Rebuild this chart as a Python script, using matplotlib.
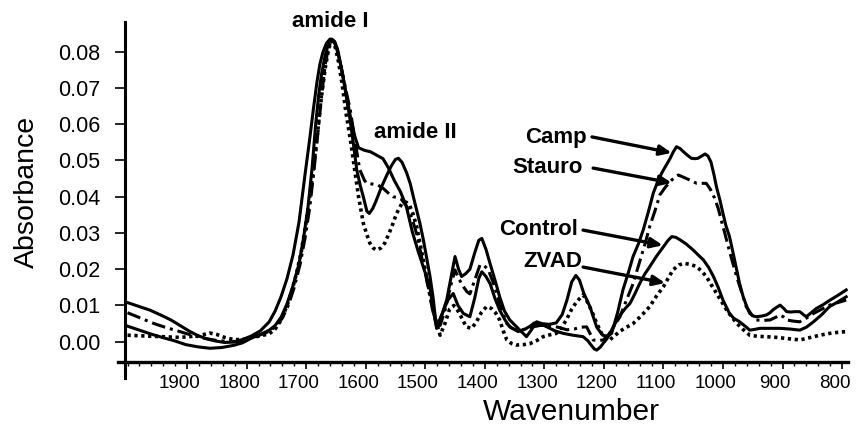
import matplotlib
matplotlib.use("Agg")
import matplotlib.pyplot as plt
import matplotlib.transforms as mtransforms
import numpy as np

plt.rcParams['font.family'] = ['Liberation Sans', 'DejaVu Sans']

# ---- data (wavenumber, absorbance) ----
camp_x = [1988, 1970, 1950, 1930, 1915, 1900, 1885, 1870, 1855, 1840, 1825, 1810, 1795, 1780,
          1765, 1750, 1740, 1730, 1720, 1710, 1700, 1690, 1682, 1676, 1670, 1665, 1660, 1654,
          1648, 1642, 1637, 1631, 1625, 1620, 1613, 1606, 1600, 1590, 1580, 1570, 1559, 1550,
          1540, 1530, 1520, 1510, 1500, 1490, 1480, 1475, 1469, 1460, 1452, 1445, 1438, 1432,
          1427, 1420, 1413, 1405, 1398, 1393, 1386, 1379, 1370, 1363, 1355, 1346, 1332, 1318,
          1310, 1301, 1292, 1280, 1268, 1258, 1250, 1242, 1235, 1229, 1222, 1211, 1200, 1190,
          1182, 1175, 1165, 1156, 1147, 1139, 1130, 1122, 1113, 1105, 1098, 1091, 1084, 1077,
          1071, 1066, 1060, 1055, 1048, 1041, 1035, 1030, 1024, 1018, 1013, 1008, 1003, 999,
          993, 988, 983, 977, 971, 965, 960, 954, 948, 943, 937, 932, 922, 915, 909, 904, 897,
          892, 886, 881, 874, 867, 859, 853, 848, 840, 831, 820, 808, 795, 781]
camp_y = [0.0108, 0.0098, 0.0087, 0.0072, 0.0060, 0.0045, 0.0030, 0.0017, 0.0008, 0.0002,
          -0.0002, -0.0001, 0.0006, 0.0016, 0.0030, 0.0055, 0.0085, 0.0125, 0.0175, 0.0240,
          0.0330, 0.0460, 0.0560, 0.0640, 0.0715, 0.0765, 0.0798, 0.0823, 0.0835, 0.0830,
          0.0812, 0.0770, 0.0722, 0.0676, 0.0615, 0.0565, 0.0535, 0.0528, 0.0524, 0.0515,
          0.0505, 0.0480, 0.0445, 0.0415, 0.0375, 0.0305, 0.0250, 0.0200, 0.0150, 0.0090,
          0.0040, 0.0075, 0.0115, 0.0175, 0.0235, 0.0200, 0.0180, 0.0188, 0.0200, 0.0245,
          0.0280, 0.0285, 0.0255, 0.0215, 0.0165, 0.0124, 0.0085, 0.0060, 0.0037, 0.0014,
          0.0032, 0.0055, 0.0050, 0.0048, 0.0052, 0.0075, 0.0115, 0.0165, 0.0183, 0.0170,
          0.0135, 0.0095, 0.0040, 0.0018, 0.0015, 0.0023, 0.0080, 0.0143, 0.0190, 0.0235,
          0.0270, 0.0308, 0.0360, 0.0410, 0.0440, 0.0465, 0.0485, 0.0505, 0.0525, 0.0538,
          0.0533, 0.0525, 0.0515, 0.0506, 0.0505, 0.0506, 0.0512, 0.0518, 0.0512, 0.0495,
          0.0460, 0.0428, 0.0390, 0.0354, 0.0320, 0.0290, 0.0245, 0.0198, 0.0160, 0.0124,
          0.0097, 0.0078, 0.0071, 0.0069, 0.0071, 0.0074, 0.0080, 0.0088, 0.0096, 0.0101,
          0.0092, 0.0083, 0.0082, 0.0083, 0.0083, 0.0075, 0.0069, 0.0080, 0.0092, 0.0102,
          0.0115, 0.0128, 0.0143]

control_x = [1988, 1970, 1950, 1930, 1910, 1890, 1870, 1850, 1830, 1810, 1795, 1780, 1765, 1750,
             1740, 1730, 1720, 1710, 1700, 1692, 1685, 1678, 1672, 1667, 1662, 1656, 1650, 1645,
             1640, 1635, 1630, 1625, 1620, 1614, 1609, 1603, 1597, 1592, 1586, 1582, 1576, 1570,
             1562, 1553, 1545, 1538, 1533, 1527, 1519, 1513, 1508, 1502, 1497, 1491, 1486, 1480,
             1475, 1469, 1460, 1450, 1441, 1433, 1424, 1413, 1405, 1398, 1393, 1386, 1379, 1371,
             1363, 1354, 1346, 1332, 1320, 1310, 1305, 1297, 1290, 1280, 1270, 1256, 1240, 1223,
             1215, 1210, 1204, 1200, 1194, 1189, 1183, 1178, 1170, 1160, 1152, 1144, 1136, 1128,
             1120, 1111, 1100, 1088, 1080, 1074, 1067, 1060, 1050, 1038, 1030, 1021, 1012, 1004,
             996, 988, 982, 977, 970, 960, 950, 943, 935, 926, 910, 892, 875, 859, 848, 836, 822,
             809, 795, 781]
control_y = [0.0043, 0.0033, 0.0022, 0.0012, 0.0003, -0.0008, -0.0014, -0.0018, -0.0016, -0.0010,
             -0.0003, 0.0010, 0.0020, 0.0032, 0.0045, 0.0068, 0.0105, 0.0155, 0.0215, 0.0290,
             0.0370, 0.0480, 0.0600, 0.0680, 0.0740, 0.0790, 0.0825, 0.0835, 0.0828, 0.0805,
             0.0765, 0.0720, 0.0670, 0.0610, 0.0550, 0.0474, 0.0430, 0.0400, 0.0360, 0.0354,
             0.0368, 0.0391, 0.0425, 0.0458, 0.0485, 0.0503, 0.0506, 0.0495, 0.0465, 0.0435,
             0.0400, 0.0360, 0.0327, 0.0280, 0.0235, 0.0180, 0.0124, 0.0037, 0.0075, 0.0115,
             0.0133, 0.0100, 0.0078, 0.0069, 0.0120, 0.0175, 0.0193, 0.0180, 0.0160, 0.0120,
             0.0087, 0.0060, 0.0041, 0.0028, 0.0035, 0.0045, 0.0052, 0.0050, 0.0046, 0.0038,
             0.0030, 0.0023, 0.0018, 0.0014, 0.0003, -0.0008, -0.0020, -0.0023, -0.0015, -0.0004,
             0.0008, 0.0023, 0.0048, 0.0075, 0.0092, 0.0106, 0.0132, 0.0160, 0.0185, 0.0207,
             0.0235, 0.0262, 0.0280, 0.0290, 0.0288, 0.0281, 0.0270, 0.0253, 0.0240, 0.0226,
             0.0205, 0.0180, 0.0150, 0.0115, 0.0095, 0.0078, 0.0065, 0.0055, 0.0042, 0.0032,
             0.0034, 0.0037, 0.0037, 0.0037, 0.0035, 0.0032, 0.0040, 0.0055, 0.0075, 0.0097,
             0.0110, 0.0124]

stauro_x = [1988, 1970, 1945, 1925, 1900, 1880, 1860, 1840, 1820, 1800, 1785, 1770, 1755, 1740,
            1728, 1718, 1708, 1698, 1690, 1682, 1675, 1668, 1662, 1656, 1650, 1645, 1640, 1635,
            1630, 1622, 1614, 1606, 1598, 1590, 1586, 1577, 1567, 1558, 1550, 1542, 1535, 1528,
            1520, 1514, 1508, 1501, 1495, 1488, 1482, 1476, 1469, 1463, 1455, 1446, 1438, 1431,
            1424, 1418, 1413, 1405, 1396, 1389, 1382, 1375, 1368, 1360, 1351, 1343, 1335, 1325,
            1310, 1295, 1280, 1265, 1250, 1238, 1228, 1217, 1211, 1206, 1198, 1189, 1180, 1172,
            1161, 1150, 1139, 1132, 1125, 1118, 1111, 1102, 1094, 1084, 1074, 1068, 1063, 1056,
            1049, 1040, 1032, 1024, 1016, 1009, 1002, 996, 991, 985, 979, 972, 965, 957, 949, 940,
            932, 920, 909, 900, 892, 886, 881, 870, 859, 848, 836, 822, 809, 795, 781]
stauro_y = [0.0080, 0.0068, 0.0051, 0.0040, 0.0028, 0.0018, 0.0010, 0.0004, 0.0001, 0.0001,
            0.0008, 0.0016, 0.0025, 0.0040, 0.0065, 0.0100, 0.0150, 0.0215, 0.0285, 0.0370,
            0.0470, 0.0580, 0.0680, 0.0765, 0.0815, 0.0833, 0.0825, 0.0800, 0.0765, 0.0700,
            0.0640, 0.0555, 0.0475, 0.0445, 0.0437, 0.0435, 0.0432, 0.0422, 0.0410, 0.0400,
            0.0398, 0.0393, 0.0375, 0.0355, 0.0328, 0.0290, 0.0240, 0.0190, 0.0140, 0.0090,
            0.0045, 0.0045, 0.0085, 0.0150, 0.0198, 0.0172, 0.0152, 0.0138, 0.0132, 0.0170,
            0.0212, 0.0210, 0.0198, 0.0168, 0.0133, 0.0090, 0.0050, 0.0038, 0.0032, 0.0033,
            0.0040, 0.0045, 0.0045, 0.0040, 0.0033, 0.0035, 0.0040, 0.0041, 0.0022, 0.0005,
            0.0003, 0.0005, 0.0020, 0.0040, 0.0069, 0.0115, 0.0160, 0.0198, 0.0235, 0.0275,
            0.0318, 0.0362, 0.0405, 0.0428, 0.0446, 0.0455, 0.0460, 0.0455, 0.0450, 0.0443,
            0.0437, 0.0437, 0.0437, 0.0420, 0.0396, 0.0368, 0.0336, 0.0300, 0.0262, 0.0220,
            0.0180, 0.0138, 0.0097, 0.0075, 0.0060, 0.0059, 0.0060, 0.0067, 0.0074, 0.0068,
            0.0060, 0.0057, 0.0055, 0.0065, 0.0078, 0.0090, 0.0101, 0.0108, 0.0115]

zvad_x = [1988, 1960, 1930, 1900, 1870, 1850, 1838, 1825, 1810, 1795, 1780, 1765, 1750, 1740,
          1730, 1720, 1712, 1704, 1696, 1689, 1682, 1675, 1668, 1662, 1656, 1650, 1645, 1640,
          1634, 1628, 1621, 1614, 1607, 1600, 1592, 1586, 1581, 1575, 1570, 1563, 1556, 1549,
          1542, 1537, 1533, 1527, 1520, 1514, 1508, 1502, 1496, 1490, 1484, 1478, 1472, 1463,
          1455, 1447, 1440, 1433, 1425, 1419, 1410, 1402, 1394, 1385, 1377, 1370, 1363, 1357,
          1351, 1343, 1335, 1323, 1312, 1300, 1290, 1279, 1268, 1259, 1251, 1242, 1234, 1223,
          1218, 1212, 1206, 1200, 1194, 1189, 1178, 1172, 1160, 1150, 1139, 1125, 1111, 1100,
          1088, 1080, 1072, 1062, 1052, 1042, 1032, 1024, 1016, 1008, 999, 990, 982, 973, 965,
          955, 943, 930, 915, 898, 881, 870, 859, 848, 836, 822, 809, 795, 781]
zvad_y = [0.0018, 0.0016, 0.0014, 0.0012, 0.0016, 0.0024, 0.0020, 0.0012, 0.0006, 0.0006,
          0.0012, 0.0016, 0.0022, 0.0035, 0.0060, 0.0100, 0.0140, 0.0190, 0.0250, 0.0320,
          0.0400, 0.0490, 0.0590, 0.0680, 0.0755, 0.0810, 0.0830, 0.0818, 0.0775, 0.0715,
          0.0630, 0.0560, 0.0480, 0.0400, 0.0327, 0.0295, 0.0272, 0.0258, 0.0253, 0.0258,
          0.0272, 0.0298, 0.0327, 0.0350, 0.0364, 0.0382, 0.0385, 0.0375, 0.0350, 0.0315,
          0.0265, 0.0215, 0.0165, 0.0115, 0.0070, 0.0018, 0.0050, 0.0090, 0.0100, 0.0085,
          0.0060, 0.0041, 0.0037, 0.0055, 0.0080, 0.0097, 0.0092, 0.0080, 0.0060, 0.0030,
          0.0005, -0.0005, -0.0009, -0.0008, -0.0005, 0.0004, 0.0014, 0.0019, 0.0023, 0.0040,
          0.0060, 0.0090, 0.0110, 0.0129, 0.0118, 0.0097, 0.0075, 0.0051, 0.0030, 0.0014,
          0.0005, 0.0014, 0.0030, 0.0040, 0.0050, 0.0072, 0.0097, 0.0125, 0.0152, 0.0175,
          0.0198, 0.0212, 0.0216, 0.0213, 0.0207, 0.0195, 0.0180, 0.0158, 0.0134, 0.0110,
          0.0088, 0.0068, 0.0051, 0.0035, 0.0018, 0.0015, 0.0014, 0.0012, 0.0009, 0.0007,
          0.0005, 0.0009, 0.0014, 0.0019, 0.0023, 0.0026, 0.0028]

tick_values = [1900, 1800, 1700, 1600, 1500, 1400, 1300, 1200, 1100, 1000, 900, 800]
tick_labels = [str(v) for v in tick_values]
yticks = [0.00, 0.01, 0.02, 0.03, 0.04, 0.05, 0.06, 0.07, 0.08]

# ---- figure ----
fig = plt.figure(figsize=(8.57, 4.37), dpi=100)
ax = fig.add_axes([118 / 857, 1 - 378 / 437, 730 / 857, 356 / 437])

lw = 2.2
ax.plot(camp_x, camp_y, color='black', lw=lw, solid_joinstyle='round')
ax.plot(control_x, control_y, color='black', lw=lw, solid_joinstyle='round')
ax.plot(stauro_x, stauro_y, color='black', lw=lw, dashes=(4.5, 1.6, 1.0, 1.6))
ax.plot(zvad_x, zvad_y, color='black', lw=2.6, dashes=(0.9, 1.0))

ax.set_xlim(2004, 778)
ax.set_ylim(-0.01, 0.0882)

# spines, Excel style
for s in ['top', 'right']:
    ax.spines[s].set_visible(False)
ax.spines['left'].set_position(('data', 1992))
ax.spines['bottom'].set_position(('data', -0.0056))
ax.spines['left'].set_linewidth(2.2)
ax.spines['bottom'].set_linewidth(2.4)

# y axis
ax.set_yticks(yticks)
ax.set_yticklabels(['%.2f' % v for v in yticks])
ax.tick_params(axis='y', direction='out', length=7, width=1.2, pad=11, labelsize=15.5)

# x axis: tick marks sit a little right of the labels in the original
ax.set_xticks([v - 12 for v in tick_values])
ax.set_xticklabels(tick_labels)
ax.set_xticks(np.arange(788, 1990, 20), minor=True)
ax.tick_params(axis='x', which='major', direction='out', length=5, width=1.2, pad=4, labelsize=13.5)
ax.tick_params(axis='x', which='minor', direction='out', length=3, width=1.0)
shift = mtransforms.ScaledTranslation(-7.2 / 100, 0, fig.dpi_scale_trans)
for lab in ax.get_xticklabels():
    lab.set_transform(lab.get_transform() + shift)

fig.text(571 / 857, 1 - 412 / 437, 'Wavenumber', ha='center', va='center', fontsize=21.5)
fig.text(27 / 857, 1 - 192 / 437, 'Absorbance', ha='center', va='center', fontsize=20.5,
         rotation=90)

# annotations
bold = dict(fontsize=16, fontweight='bold', va='baseline')
ax.text(1648, 0.0868, 'amide I', ha='center', **bold)
ax.text(1505, 0.0562, 'amide II', ha='center', **bold)
ax.text(1216, 0.0548, 'Camp', ha='right', **bold)
ax.text(1223, 0.0466, 'Stauro', ha='right', **bold)
ax.text(1231, 0.0294, 'Control', ha='right', **bold)
ax.text(1225, 0.0206, 'ZVAD', ha='right', **bold)

arrow = dict(arrowstyle='-|>,head_length=0.7,head_width=0.3', lw=2.4, color='black',
             shrinkA=0, shrinkB=0)
ax.annotate('', xy=(1074, 0.0521), xytext=(1208, 0.0565), arrowprops=arrow)
ax.annotate('', xy=(1074, 0.0438), xytext=(1206, 0.0479), arrowprops=arrow)
ax.annotate('', xy=(1089, 0.0266), xytext=(1223, 0.0308), arrowprops=arrow)
ax.annotate('', xy=(1085, 0.0162), xytext=(1223, 0.0206), arrowprops=arrow)

fig.savefig('out.png', dpi=100)
